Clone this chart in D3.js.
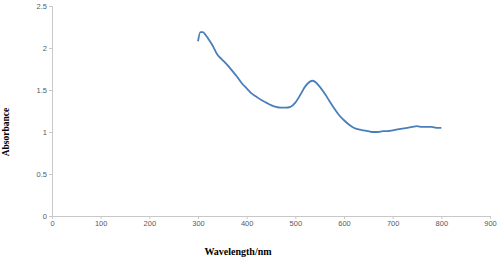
<!DOCTYPE html>
<html>
<head>
<meta charset="utf-8">
<script src="https://cdn.jsdelivr.net/npm/d3@7"></script>
<style>
  body { margin: 0; background: #fff; }
  .tick text { font-family: "Liberation Sans", Arial, sans-serif; font-size: 7.5px; fill: #595959; }
  .axis-title { font-family: "Liberation Serif", "Times New Roman", serif; font-weight: bold; fill: #000; }
</style>
</head>
<body>
<div id="chart"></div>
<script>
// Wellenlaenge (nm) und Absorbanz
const wavelength = [300, 305, 310, 315, 320, 330, 340, 350, 360, 370, 380, 390, 400, 410, 420, 430, 440, 450,
  460, 470, 480, 490, 500, 510, 520, 530, 535, 540, 550, 560, 570, 580, 590, 600, 610, 620, 630, 640,
  650, 660, 670, 680, 690, 700, 710, 720, 730, 740, 750, 760, 770, 780, 790, 800];
const absorbance = [2.08, 2.19, 2.19, 2.16, 2.12, 2.03, 1.92, 1.86, 1.80, 1.73, 1.66, 1.58, 1.52, 1.46, 1.42, 1.38, 1.35, 1.32,
  1.30, 1.29, 1.29, 1.30, 1.35, 1.44, 1.54, 1.60, 1.61, 1.60, 1.54, 1.46, 1.37, 1.28, 1.20, 1.14, 1.09, 1.05, 1.03, 1.02,
  1.01, 1.00, 1.00, 1.01, 1.01, 1.02, 1.03, 1.04, 1.05, 1.06, 1.07, 1.06, 1.06, 1.06, 1.05, 1.05];
const xTicks = [0, 100, 200, 300, 400, 500, 600, 700, 800, 900];
const yTicks = [0, 0.5, 1, 1.5, 2, 2.5];

const width = 500, height = 260;
const margin = { top: 6, right: 10, bottom: 44, left: 52 };

const svg = d3.select('#chart')
    .append('svg')
    .attr('width', width)
    .attr('height', height);

const x = d3.scaleLinear().domain([0, 900]).range([margin.left, 490]);
const y = d3.scaleLinear().domain([0, 2.5]).range([height - margin.bottom, margin.top]);

// x-Achse
const xAxis = svg.append('g')
    .attr('transform', `translate(0,${y(0)})`)
    .call(d3.axisBottom(x).tickValues(xTicks).tickSize(3).tickPadding(2));
xAxis.select('.domain').attr('stroke', '#c8c8c8');
xAxis.selectAll('.tick line').attr('stroke', '#c8c8c8');

// y-Achse
const yAxis = svg.append('g')
    .attr('transform', `translate(${x(0)},0)`)
    .call(d3.axisLeft(y).tickValues(yTicks).tickSize(3).tickPadding(2).tickFormat(d3.format('')));
yAxis.select('.domain').attr('stroke', '#c8c8c8');
yAxis.selectAll('.tick line').attr('stroke', '#c8c8c8');

// Kurve
const data = wavelength.map((w, i) => ({ w, a: absorbance[i] }));
svg.append('path')
    .datum(data)
    .attr('fill', 'none')
    .attr('stroke', '#4a7ebb')
    .attr('stroke-width', 1.8)
    .attr('d', d3.line().x(d => x(d.w)).y(d => y(d.a)).curve(d3.curveMonotoneX));

// Achsentitel
svg.append('text')
    .attr('class', 'axis-title')
    .attr('x', 238)
    .attr('y', 255)
    .attr('text-anchor', 'middle')
    .style('font-size', '10px')
    .text('Wavelength/nm');

svg.append('text')
    .attr('class', 'axis-title')
    .attr('transform', 'translate(9,132) rotate(-90)')
    .attr('text-anchor', 'middle')
    .style('font-size', '9.5px')
    .text('Absorbance');
</script>
</body>
</html>
